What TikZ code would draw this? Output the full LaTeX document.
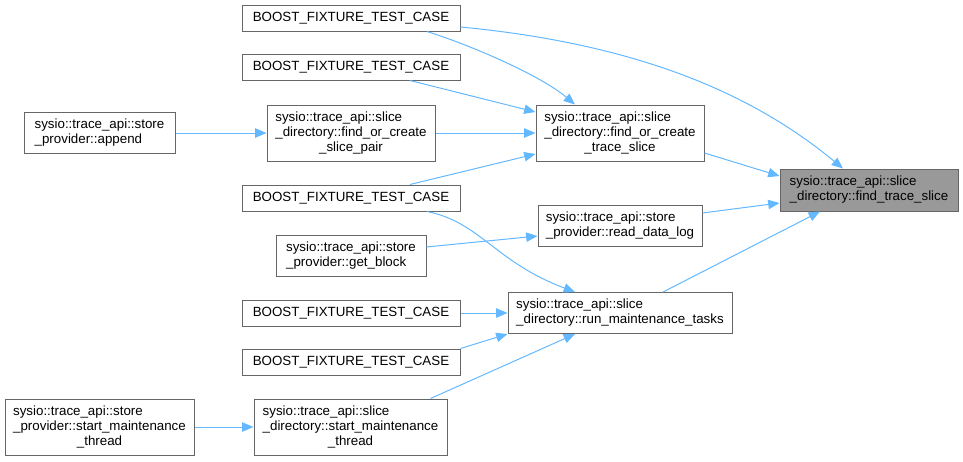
\documentclass[tikz,border=0pt]{standalone}
\usepackage{fontspec}
\setmainfont{Liberation Sans}
\usetikzlibrary{arrows.meta}
\definecolor{edgeblue}{HTML}{63B8FF}
\definecolor{boxgrey}{HTML}{666666}
\definecolor{hlgrey}{HTML}{999999}
\newcommand{\twol}[2]{\begin{tabular}{@{}l@{}}#1\\#2\end{tabular}}
\newcommand{\threel}[3]{\begin{tabular}{@{}l@{}}#1\\#2\\\multicolumn{1}{@{}c@{}}{#3}\end{tabular}}
\tikzset{
  fnbox/.style 2 args={draw=boxgrey, line width=0.75pt, fill=white, inner sep=0pt,
    minimum width=#1*0.75pt, minimum height=#2*0.75pt,
    font=\fontsize{10}{11.25}\selectfont},
  hlbox/.style 2 args={fnbox={#1}{#2}, fill=hlgrey},
  call/.style={draw=edgeblue, line width=0.75pt, -{Triangle[length=8.5pt,width=7pt]}}
}
\begin{document}
\begin{tikzpicture}[x=0.75pt,y=-0.75pt]
\useasboundingbox (0,0) rectangle (963,461);
% nodes
\node[hlbox={178}{42}] (fts) at (869,190) {\twol{sysio::trace\_api::slice}{\_directory::find\_trace\_slice}};
\node[fnbox={168}{56}] (fcts) at (620,133) {\threel{sysio::trace\_api::slice}{\_directory::find\_or\_create}{\_trace\_slice}};
\node[fnbox={164}{41}] (rdl) at (620,225.5) {\twol{sysio::trace\_api::store}{\_provider::read\_data\_log}};
\node[fnbox={224}{41}] (rmt) at (620,313) {\twol{sysio::trace\_api::slice}{\_directory::run\_maintenance\_tasks}};
\node[fnbox={218}{26}] (b1) at (351,18) {BOOST\_FIXTURE\_TEST\_CASE};
\node[fnbox={218}{26}] (b2) at (351,67) {BOOST\_FIXTURE\_TEST\_CASE};
\node[fnbox={168}{56}] (fcsp) at (351,133) {\threel{sysio::trace\_api::slice}{\_directory::find\_or\_create}{\_slice\_pair}};
\node[fnbox={218}{26}] (b3) at (351,198) {BOOST\_FIXTURE\_TEST\_CASE};
\node[fnbox={150}{41}] (gb) at (351,255.5) {\twol{sysio::trace\_api::store}{\_provider::get\_block}};
\node[fnbox={218}{26}] (b4) at (351,313) {BOOST\_FIXTURE\_TEST\_CASE};
\node[fnbox={218}{26}] (b5) at (351,362) {BOOST\_FIXTURE\_TEST\_CASE};
\node[fnbox={193}{56}] (sdsmt) at (350.5,427) {\threel{sysio::trace\_api::slice}{\_directory::start\_maintenance}{\_thread}};
\node[fnbox={151}{41}] (app) at (99.5,133) {\twol{sysio::trace\_api::store}{\_provider::append}};
\node[fnbox={189}{56}] (spsmt) at (99.5,427) {\threel{sysio::trace\_api::store}{\_provider::start\_maintenance}{\_thread}};
% edges
\draw[call] ([yshift=-6.75pt]b1.east) .. controls (650,45) and (760,100) .. ([xshift=-19.5pt]fts.north);
\draw[call] ([xshift=57pt]b1.south) .. controls (470,45) and (540,75) .. ([xshift=-33.75pt]fcts.north);
\draw[call] ([xshift=44.25pt]b2.south) -- ([yshift=15.75pt]fcts.west);
\draw[call] (fcsp.east) -- (fcts.west);
\draw[call] ([xshift=44.25pt]b3.north) -- ([yshift=-15.75pt]fcts.west);
\draw[call] ([yshift=-15pt]fcts.east) -- ([yshift=10.5pt]fts.west);
\draw[call] ([yshift=9.4pt]rdl.east) -- ([yshift=-9.75pt]fts.west);
\draw[call] ([xshift=32.25pt]rmt.north) -- ([xshift=-36.75pt]fts.south);
\draw[call] ([xshift=57pt]b3.south) .. controls (480,222) and (495,262) .. ([xshift=-33.75pt]rmt.north);
\draw[call] ([yshift=6.4pt]gb.east) -- ([yshift=-7.9pt]rdl.west);
\draw[call] (b4.east) -- (rmt.west);
\draw[call] (b5.north east) -- (rmt.south west);
\draw[call] ([xshift=60pt]sdsmt.north) -- ([xshift=-33.75pt]rmt.south);
\draw[call] (spsmt.east) -- (sdsmt.west);
\draw[call] (app.east) -- (fcsp.west);
\end{tikzpicture}
\end{document}
